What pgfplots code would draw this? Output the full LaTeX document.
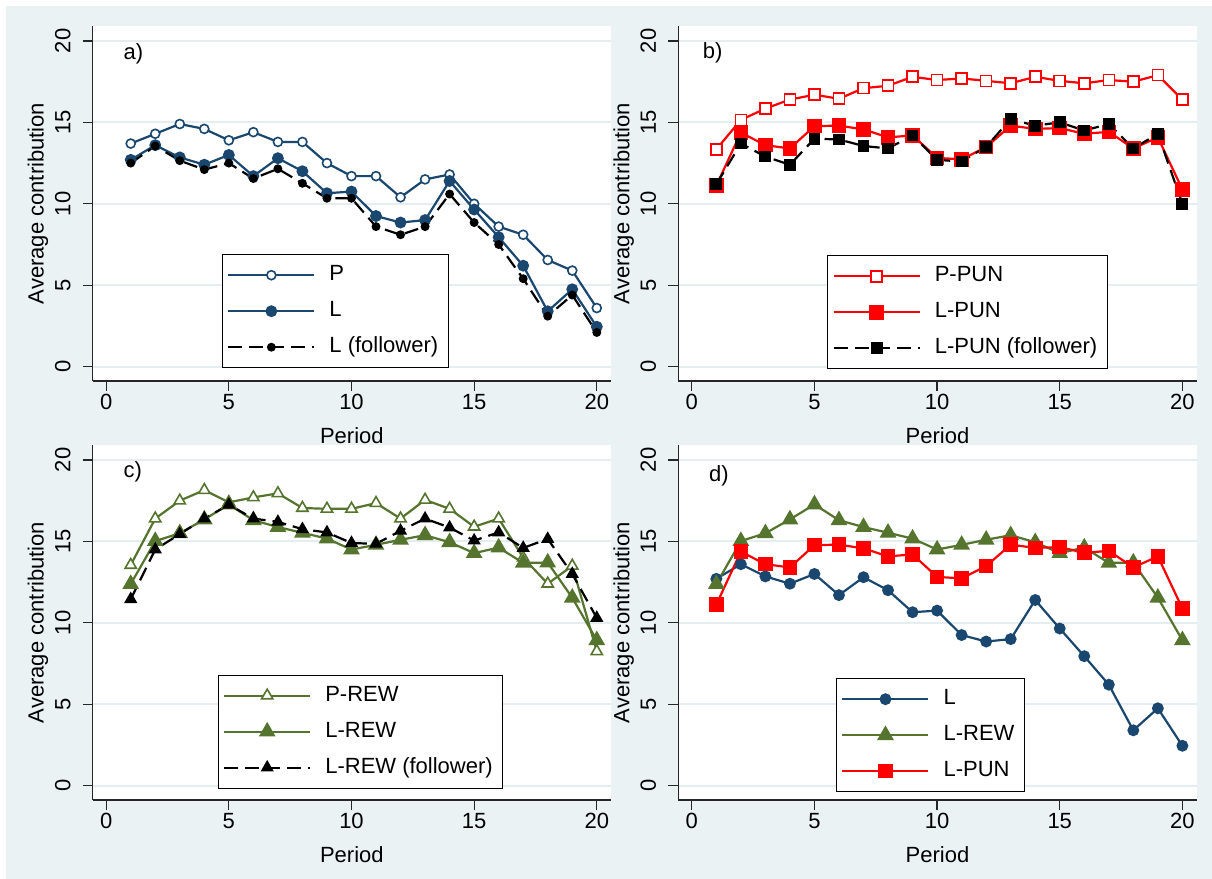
\documentclass[border=0pt]{standalone}
\usepackage{fontspec}
\setmainfont{Liberation Sans}
\usepackage{pgfplots}
\pgfplotsset{compat=1.18}

\definecolor{stnavy}{RGB}{26,71,111}
\definecolor{stgreen}{RGB}{85,117,47}
\definecolor{bgc}{RGB}{234,242,243}
\definecolor{gridc}{RGB}{228,237,239}
\newcommand\fs{\fontsize{22bp}{26bp}\selectfont}

\pgfplotsset{
  panel/.style={
    scale only axis, width=518.3bp, height=355bp,
    xmin=-0.55, xmax=20.58, ymin=-0.88, ymax=20.92,
    axis x line*=bottom, axis y line*=left,
    axis line style={-, line width=1.2bp, black!85},
    tick align=outside, major tick length=10bp,
    tick style={line width=1.2bp, black!85},
    xtick={0,5,...,20}, ytick={0,5,...,20},
    scaled ticks=false,
    ymajorgrids, major grid style={line width=2bp, gridc},
    axis background/.style={fill=white},
    tick label style={font=\fs},
    /pgf/number format/assume math mode=true,
    yticklabel style={rotate=90, anchor=south, inner ysep=12bp},
    xlabel={Period}, ylabel={Average contribution},
    every axis x label/.style={at={(axis description cs:0.5,-0.154)}, anchor=center, font=\fs},
    every axis y label/.style={at={(axis description cs:-0.1055,0.5)}, anchor=center, rotate=90, font=\fs},
    legend cell align=left,
    legend style={anchor=south west, draw=black, line width=1bp, font=\fs,
      inner xsep=5bp, inner ysep=2.5bp, column sep=9bp,
      nodes={inner xsep=5bp, inner ysep=7.5bp, text height=16bp, text depth=5bp}},
    legend image code/.code={\draw[mark repeat=2,mark phase=2,##1] plot coordinates {(0bp,0bp) (43bp,0bp) (86bp,0bp)};},
  },
  sP/.style={stnavy, line width=2.2bp, mark=*, mark size=4.5bp, mark options={fill=white, line width=1.6bp, solid}},
  sL/.style={stnavy, line width=2.2bp, mark=*, mark size=4.8bp, mark options={solid}},
  sLf/.style={black, line width=2.2bp, dash pattern=on 14bp off 7bp, mark=*, mark size=3.3bp, mark options={solid}},
  sPP/.style={red, line width=2.2bp, mark=square*, mark size=5.5bp, mark options={fill=white, line width=1.6bp, solid}},
  sLP/.style={red, line width=2.2bp, mark=square*, mark size=6.2bp, mark options={solid}},
  sLPf/.style={black, line width=2.2bp, dash pattern=on 14bp off 7bp, mark=square*, mark size=4.8bp, mark options={solid}},
  sPR/.style={stgreen, line width=2.2bp, mark=triangle*, mark size=6.5bp, mark options={fill=white, line width=1.6bp, solid}},
  sLR/.style={stgreen, line width=2.2bp, mark=triangle*, mark size=7.5bp, mark options={solid}},
  sLRf/.style={black, line width=2.2bp, dash pattern=on 14bp off 7bp, mark=triangle*, mark size=5.5bp, mark options={solid}},
}

\pgfplotstableread{
x P L Lf
1 13.7 12.7 12.5
2 14.3 13.6 13.55
3 14.9 12.85 12.65
4 14.6 12.4 12.1
5 13.9 13.0 12.5
6 14.4 11.7 11.55
7 13.8 12.8 12.15
8 13.8 12.0 11.26
9 12.5 10.65 10.34
10 11.7 10.75 10.34
11 11.7 9.25 8.6
12 10.4 8.85 8.1
13 11.5 9.0 8.6
14 11.8 11.4 10.6
15 10.0 9.65 8.85
16 8.6 7.95 7.5
17 8.1 6.2 5.4
18 6.55 3.4 3.1
19 5.9 4.75 4.4
20 3.6 2.45 2.1
}\dataL

\pgfplotstableread{
x P L Lf
1 13.35 11.12 11.2
2 15.15 14.37 13.7
3 15.85 13.6 12.9
4 16.4 13.4 12.4
5 16.7 14.77 14.0
6 16.45 14.8 13.95
7 17.1 14.57 13.55
8 17.25 14.08 13.4
9 17.8 14.2 14.2
10 17.6 12.82 12.7
11 17.7 12.73 12.6
12 17.55 13.48 13.5
13 17.4 14.8 15.2
14 17.8 14.6 14.8
15 17.55 14.65 15.0
16 17.4 14.3 14.5
17 17.6 14.42 14.9
18 17.5 13.4 13.4
19 17.9 14.08 14.3
20 16.4 10.88 10.0
}\dataPUN

\pgfplotstableread{
x P L Lf
1 13.55 12.38 11.45
2 16.4 15.02 14.5
3 17.5 15.5 15.45
4 18.15 16.35 16.4
5 17.4 17.27 17.25
6 17.7 16.3 16.4
7 17.95 15.88 16.2
8 17.05 15.53 15.75
9 17.0 15.17 15.55
10 17.0 14.5 14.9
11 17.35 14.79 14.85
12 16.4 15.1 15.65
13 17.55 15.38 16.4
14 17.0 14.95 15.85
15 15.9 14.28 15.05
16 16.4 14.62 15.55
17 14.0 13.68 14.6
18 12.4 13.7 15.15
19 13.5 11.54 13.0
20 8.25 8.93 10.3
}\dataREW

\begin{document}
\begin{tikzpicture}[x=1bp,y=1bp]
\useasboundingbox (0,0) rectangle (1212,879);
\fill[white] (0,0) rectangle (1212,879);
\fill[bgc] (6,0) rectangle (1212,873);

% a) baseline
\begin{axis}[panel, at={(92.7bp,498bp)}, legend style={at={(0.249,0.036)}}]
\addplot[sP] table[x=x,y=P] {\dataL};
\addlegendentry{P}
\addplot[sL] table[x=x,y=L] {\dataL};
\addlegendentry{L}
\addplot[sLf] table[x=x,y=Lf] {\dataL};
\addlegendentry{L (follower)}
\node[anchor=west, inner sep=0pt, font=\fs] at (axis cs:0.7,19.2) {a)};
\end{axis}

% b) punishment
\begin{axis}[panel, at={(678.3bp,498bp)}, legend style={at={(0.287,0.033)}}]
\addplot[sPP] table[x=x,y=P] {\dataPUN};
\addlegendentry{P-PUN}
\addplot[sLP] table[x=x,y=L] {\dataPUN};
\addlegendentry{L-PUN}
\addplot[sLPf] table[x=x,y=Lf] {\dataPUN};
\addlegendentry{L-PUN (follower)}
\node[anchor=west, inner sep=0pt, font=\fs] at (axis cs:0.44,19.25) {b)};
\end{axis}

% c) reward
\begin{axis}[panel, at={(92.7bp,79bp)}, legend style={at={(0.241,0.032)}}]
\addplot[sPR] table[x=x,y=P] {\dataREW};
\addlegendentry{P-REW}
\addplot[sLR] table[x=x,y=L] {\dataREW};
\addlegendentry{L-REW}
\addplot[sLRf] table[x=x,y=Lf] {\dataREW};
\addlegendentry{L-REW (follower)}
\node[anchor=west, inner sep=0pt, font=\fs] at (axis cs:0.7,19.25) {c)};
\end{axis}

% d) leaders compared
\begin{axis}[panel, at={(678.3bp,79bp)}, legend style={at={(0.304,0.022)}}]
\addplot[sL] table[x=x,y=L] {\dataL};
\addlegendentry{L}
\addplot[sLR] table[x=x,y=L] {\dataREW};
\addlegendentry{L-REW}
\addplot[sLP] table[x=x,y=L] {\dataPUN};
\addlegendentry{L-PUN}
\node[anchor=west, inner sep=0pt, font=\fs] at (axis cs:0.7,19.0) {d)};
\end{axis}
\end{tikzpicture}
\end{document}
